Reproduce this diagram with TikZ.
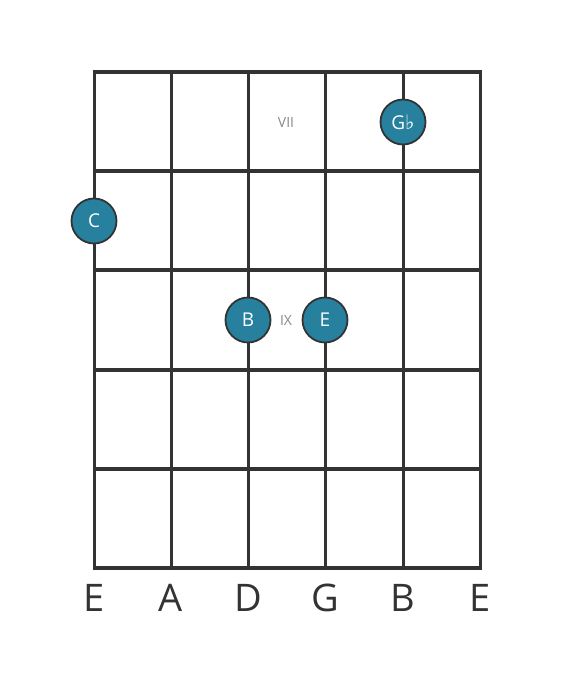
\documentclass[tikz,border=0pt]{standalone}
\usepackage{fontspec}
\setmainfont{Open Sans}
\newfontfamily\flatfont{DejaVu Sans}
\usepackage{tikz}

\definecolor{gridgray}{HTML}{333333}
\definecolor{notefill}{HTML}{26809E}
\definecolor{fretlbl}{HTML}{888888}

\tikzset{
  notedot/.style={circle, fill=notefill, draw=gridgray, line width=1.8pt, minimum size=45pt, inner sep=0pt, text=white, font=\fontsize{19}{19}\selectfont},
  fretmark/.style={text=fretlbl, font=\fontsize{14}{14}\selectfont, inner sep=0.75pt},
  stringname/.style={text=gridgray, font=\fontsize{38}{38}\selectfont, inner sep=0.75pt}
}

\begin{document}
\begin{tikzpicture}[x=1pt,y=1pt,yscale=-1,xscale=1]

            \useasboundingbox (0,0) rectangle (560,682);

            % Strings
            \foreach \x in {94,171,248,325,403,480}
              \draw [gridgray, line width=3pt]  (\x,72) -- (\x,568);

            % Frets
            \foreach \y in {72,171,270,370,469,568}
              \draw [gridgray, line width=4pt]  (92.5,\y) -- (481.5,\y);

            % Fret labels
            \node [fretmark] (vii) at (286,123) {VII};
            \node [fretmark] (ix)  at (286,321) {IX};

            % Notes
            \node [notedot] (gflat) at (403,122) {G{\flatfont\fontsize{20}{20}\selectfont ♭}};
            \node [notedot] (c)     at (94,221)  {C};
            \node [notedot] (b)     at (248,320) {B};
            \node [notedot] (e)     at (325,320) {E};

            % String names
            \node [stringname] (s1) at (94,598)  {E};
            \node [stringname] (s2) at (171,598) {A};
            \node [stringname] (s3) at (248,598) {D};
            \node [stringname] (s4) at (325,598) {G};
            \node [stringname] (s5) at (403,598) {B};
            \node [stringname] (s6) at (480,598) {E};

\end{tikzpicture}
\end{document}
